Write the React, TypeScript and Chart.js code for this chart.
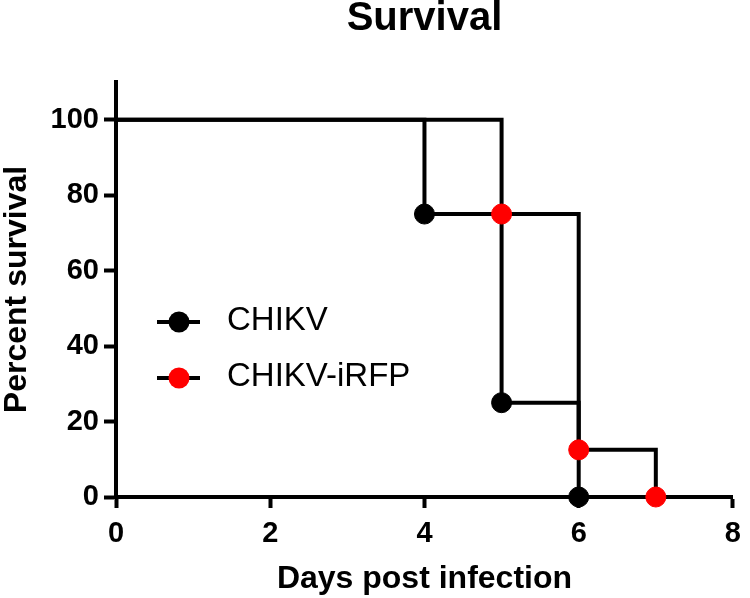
import React, { useEffect, useRef } from 'react';
import { Chart, registerables } from 'chart.js';

Chart.register(...registerables);

const seriesNames = ['CHIKV', 'CHIKV-iRFP'];
const markerColors = ['#000000', '#ff0000'];
const chikvDays = [0, 4, 5, 6];
const chikvSurvival = [100, 75, 25, 0];
const irfpDays = [0, 5, 6, 7];
const irfpSurvival = [100, 75, 12.5, 0];
const xTickValues = [0, 2, 4, 6, 8];
const yTickValues = [0, 20, 40, 60, 80, 100];
const titleText = 'Survival';
const xTitle = 'Days post infection';
const yTitle = 'Percent survival';

const FONT = '"Liberation Sans", Arial, sans-serif';

const titlePlugin = {
  id: 'centeredTitle',
  afterDraw(chart: any) {
    const { ctx, chartArea } = chart;
    ctx.save();
    ctx.fillStyle = '#000';
    ctx.font = `bold 40px ${FONT}`;
    ctx.textAlign = 'center';
    ctx.textBaseline = 'middle';
    ctx.fillText(titleText, (chartArea.left + chartArea.right) / 2, 19);
    ctx.restore();
  },
};

const legendPlugin = {
  id: 'insideLegend',
  afterDraw(chart: any) {
    const { ctx } = chart;
    seriesNames.forEach((name, i) => {
      const y = 322 + i * 56;
      ctx.save();
      ctx.strokeStyle = '#000';
      ctx.lineWidth = 4;
      ctx.beginPath();
      ctx.moveTo(157, y);
      ctx.lineTo(200, y);
      ctx.stroke();
      ctx.fillStyle = markerColors[i];
      ctx.beginPath();
      ctx.arc(179, y, 10.5, 0, Math.PI * 2);
      ctx.fill();
      ctx.fillStyle = '#000';
      ctx.font = `33px ${FONT}`;
      ctx.textAlign = 'left';
      ctx.textBaseline = 'middle';
      ctx.fillText(name, 227, y - 1);
      ctx.restore();
    });
  },
};

function toPoints(xs: number[], ys: number[]) {
  return xs.map((x, i) => ({ x, y: ys[i] }));
}

export default function App() {
  const ref = useRef<HTMLCanvasElement | null>(null);

  useEffect(() => {
    if (!ref.current) return;
    const chart = new Chart(ref.current, {
      type: 'line',
      data: {
        datasets: [
          {
            label: seriesNames[1],
            data: toPoints(irfpDays, irfpSurvival),
            borderColor: '#000',
            borderWidth: 4,
            stepped: 'before',
            fill: false,
            pointRadius: irfpDays.map((_, i) => (i === 0 ? 0 : 10)),
            pointBackgroundColor: markerColors[1],
            pointBorderColor: markerColors[1],
            pointBorderWidth: 1,
            clip: false,
            order: 0,
          },
          {
            label: seriesNames[0],
            data: toPoints(chikvDays, chikvSurvival),
            borderColor: '#000',
            borderWidth: 4,
            stepped: 'before',
            fill: false,
            pointRadius: chikvDays.map((_, i) => (i === 0 ? 0 : 10)),
            pointBackgroundColor: markerColors[0],
            pointBorderColor: markerColors[0],
            pointBorderWidth: 1,
            clip: false,
            order: 1,
          },
        ],
      },
      options: {
        animation: false,
        responsive: false,
        maintainAspectRatio: false,
        layout: { padding: { top: 82, right: 12, left: 0, bottom: 0 } },
        plugins: {
          legend: { display: false },
          title: { display: false },
          tooltip: { enabled: false },
        },
        scales: {
          x: {
            type: 'linear',
            min: 0,
            max: 8,
            afterFit: (s: any) => {
              s.height = 101;
            },
            afterBuildTicks: (s: any) => {
              s.ticks = xTickValues.map((v) => ({ value: v }));
            },
            ticks: {
              stepSize: 2,
              color: '#000',
              font: { family: FONT, size: 29, weight: 'bold', lineHeight: 1.2 },
              padding: 9,
              maxRotation: 0,
            },
            grid: {
              display: true,
              drawOnChartArea: false,
              drawTicks: true,
              tickLength: 11,
              tickWidth: 4,
              tickColor: '#000',
            },
            border: { display: true, color: '#000', width: 4 },
            title: {
              display: true,
              text: xTitle,
              color: '#000',
              font: { family: FONT, size: 32, weight: 'bold', lineHeight: 1 },
              padding: { top: 0, bottom: 3 },
            },
          },
          y: {
            type: 'linear',
            min: 0,
            max: 110,
            afterFit: (s: any) => {
              s.width = 116;
            },
            afterBuildTicks: (s: any) => {
              s.ticks = yTickValues.map((v) => ({ value: v }));
            },
            ticks: {
              stepSize: 20,
              includeBounds: false,
              color: '#000',
              font: { family: FONT, size: 29, weight: 'bold', lineHeight: 1.2 },
              padding: 5,
            },
            grid: {
              display: true,
              drawOnChartArea: false,
              drawTicks: true,
              tickLength: 12,
              tickWidth: 4,
              tickColor: '#000',
            },
            border: { display: true, color: '#000', width: 4 },
            title: {
              display: true,
              text: yTitle,
              color: '#000',
              font: { family: FONT, size: 32, weight: 'bold', lineHeight: 1 },
              padding: { top: 1, bottom: 0 },
            },
          },
        },
      },
      plugins: [titlePlugin, legendPlugin],
    } as any);
    return () => chart.destroy();
  }, []);

  return (
    <div style={{ position: 'fixed', left: 0, top: 0, width: 750, height: 598, background: '#fff' }}>
      <canvas ref={ref} width={750} height={598} style={{ width: 750, height: 598, display: 'block' }} />
    </div>
  );
}
